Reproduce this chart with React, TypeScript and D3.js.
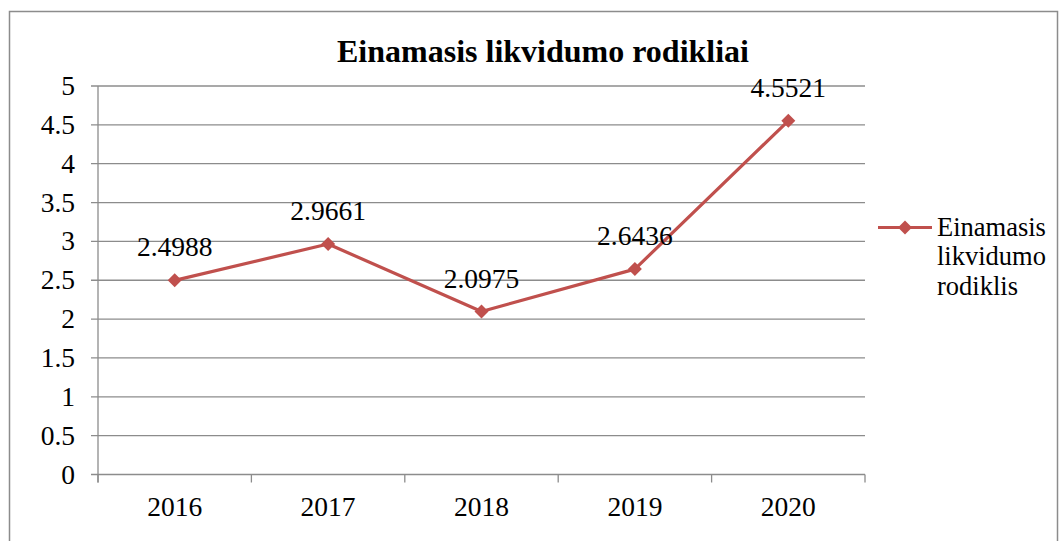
import React from "react";
import * as d3 from "d3";

const categories = ["2016", "2017", "2018", "2019", "2020"];
const values = [2.4988, 2.9661, 2.0975, 2.6436, 4.5521];
const yTicks = [0, 0.5, 1, 1.5, 2, 2.5, 3, 3.5, 4, 4.5, 5];
const title = "Einamasis likvidumo rodikliai";
const legendLines = ["Einamasis", "likvidumo", "rodiklis"];

const W = 1060, H = 541;
const plot = { left: 98, right: 865, top: 86, bottom: 474.5 };
const RED = "#C0504D";
const GRID = "#8C8C8C";
const FONT = "'Liberation Serif', Tinos, 'Times New Roman', 'DejaVu Serif', serif";
const FS = 27.5;

export default function App() {
  const x = d3.scaleBand<string>().domain(categories).range([plot.left, plot.right]);
  const y = d3.scaleLinear().domain([0, 5]).range([plot.bottom, plot.top]);
  const line = d3
    .line<number>()
    .x((_, i) => x(categories[i])! + x.bandwidth() / 2)
    .y((d) => y(d));
  const diamond = (cx: number, cy: number, r: number) =>
    `M${cx},${cy - r}L${cx + r},${cy}L${cx},${cy + r}L${cx - r},${cy}Z`;
  const boundaries = categories.map((c) => x(c)!).concat([plot.right]);
  const txt = { fontFamily: FONT, fontSize: FS, fill: "#000" } as React.CSSProperties;

  return (
    <svg width={W} height={H} style={{ position: "absolute", left: 0, top: 0, fontFamily: FONT }}>
      <rect x={0} y={0} width={W} height={H} fill="#fff" />
      <rect x={9.5} y={11.5} width={1048} height={H} fill="#fff" stroke="#8C8C8C" strokeWidth={1.5} />
      <text x={543} y={62} textAnchor="middle" style={{ fontFamily: FONT, fontWeight: "bold", fontSize: 32 }}>
        {title}
      </text>
      {yTicks.map((t) => (
        <g key={t}>
          <line x1={plot.left - 7} x2={plot.right} y1={y(t)} y2={y(t)} stroke={GRID} strokeWidth={1.3} />
          <text x={75} y={y(t) + 9} textAnchor="end" style={txt}>
            {t}
          </text>
        </g>
      ))}
      <line x1={plot.left} x2={plot.left} y1={plot.top} y2={plot.bottom + 8} stroke={GRID} strokeWidth={1.3} />
      {boundaries.map((b, i) => (
        <line key={i} x1={b} x2={b} y1={plot.bottom} y2={plot.bottom + 8} stroke={GRID} strokeWidth={1.3} />
      ))}
      {categories.map((c) => (
        <text key={c} x={x(c)! + x.bandwidth() / 2} y={516} textAnchor="middle" style={txt}>
          {c}
        </text>
      ))}
      <path d={line(values) || ""} fill="none" stroke={RED} strokeWidth={3.2} strokeLinejoin="round" />
      {values.map((v, i) => {
        const cx = x(categories[i])! + x.bandwidth() / 2;
        const cy = y(v);
        return (
          <g key={i}>
            <path d={diamond(cx, cy, 7)} fill={RED} />
            <text x={cx} y={cy - 24} textAnchor="middle" style={txt}>
              {v.toFixed(4)}
            </text>
          </g>
        );
      })}
      <line x1={878} x2={932} y1={227.5} y2={227.5} stroke={RED} strokeWidth={3.2} />
      <path d={diamond(905, 227.5, 7)} fill={RED} />
      {legendLines.map((l, i) => (
        <text key={i} x={937} y={235.5 + i * 29.5} style={{ ...txt, fontSize: 26.5 }}>
          {l}
        </text>
      ))}
    </svg>
  );
}
